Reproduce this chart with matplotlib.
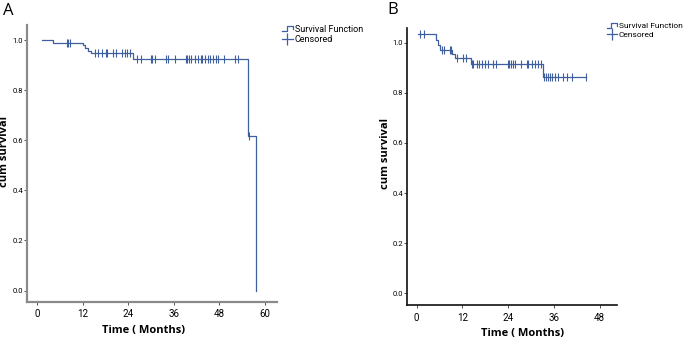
import matplotlib
matplotlib.use("Agg")
import matplotlib.pyplot as plt
import numpy as np
from matplotlib.lines import Line2D
from matplotlib.legend_handler import HandlerBase
from matplotlib import font_manager

names = {f.name for f in font_manager.fontManager.ttflist}
NARROW = 'Liberation Sans Narrow' if 'Liberation Sans Narrow' in names else 'Roboto'
plt.rcParams['font.family'] = [NARROW, 'DejaVu Sans']

# ---- data ----
A_event_times = [1.2, 4.2, 12.0, 12.6, 13.4, 14.2, 25.2, 55.7, 57.7]
A_surv = [1.0, 0.989, 0.979, 0.968, 0.957, 0.947, 0.925, 0.615, 0.0]
A_censor = [7.9, 8.2, 8.5,
            15.2, 15.9, 17.0, 18.1, 18.5, 19.9, 20.8, 22.4, 23.2, 23.7, 24.4,
            26.2, 27.5, 29.9, 30.3, 31.1, 34.1, 34.6, 36.3, 39.2, 39.6, 40.0,
            40.7, 41.6, 42.5, 43.1, 43.6, 44.2, 45.0, 45.6, 46.4, 47.1, 47.8,
            49.3, 52.2, 53.0, 56.0]

B_event_times = [0.3, 5.1, 5.6, 6.1, 9.2, 10.0, 14.2, 33.1]
B_surv = [1.033, 1.01, 0.99, 0.971, 0.955, 0.937, 0.914, 0.864]
B_censor = [0.9, 2.0, 6.6, 7.2, 8.7, 9.0, 10.5, 12.2, 12.9,
            14.4, 14.9, 15.7, 16.4, 17.1, 17.9, 18.8, 20.1, 20.7, 23.9, 24.3,
            24.8, 25.4, 25.8, 27.4, 28.9, 29.3, 30.2, 31.0, 31.9, 32.6,
            33.5, 33.9, 34.4, 35.0, 35.6, 36.3, 37.0, 38.3, 39.4, 40.7, 44.4]

A_xticks = [0, 12, 24, 36, 48, 60]
B_xticks = [0, 12, 24, 36, 48]
yticks = [0.0, 0.2, 0.4, 0.6, 0.8, 1.0]
ytick_labels = ["0.0", "0.2", "0.4", "0.6", "0.8", "1.0"]

COL = '#3f5f9f'
W, H = 685, 338
fig = plt.figure(figsize=(W / 100, H / 100), dpi=100)


def axes_px(l, t, r, b):
    return fig.add_axes([l / W, 1 - b / H, (r - l) / W, (b - t) / H])


class StepHandler(HandlerBase):
    def create_artists(self, legend, orig, xd, yd, width, height, fontsize, trans):
        xs = [xd, xd + width * 0.45, xd + width * 0.45, xd + width, xd + width]
        ys = [yd + height * 0.1, yd + height * 0.1, yd + height * 0.9,
              yd + height * 0.9, yd + height * 0.45]
        ln = Line2D(xs, ys, color=COL, lw=0.9, transform=trans)
        return [ln]


def km(ax, times, surv, cens):
    t = list(times)
    s = list(surv)
    end = max(max(cens), times[-1])
    if s[-1] > 0:
        t = t + [end]
        s = s + [s[-1]]
    ax.step(t, s, where='post', color=COL, lw=0.9)
    ct = np.array(cens)
    idx = np.searchsorted(np.array(times), ct, side='right') - 1
    cs = np.array(surv)[idx]
    ax.plot(ct, cs, ls='none', marker='|', ms=5.5, mew=0.8, color=COL)


def style(ax, spine_col, spine_w, xticks, xlim, ylim):
    for s in ['top', 'right']:
        ax.spines[s].set_visible(False)
    for s in ['left', 'bottom']:
        ax.spines[s].set_color(spine_col)
        ax.spines[s].set_linewidth(spine_w)
    ax.set_xlim(*xlim)
    ax.set_ylim(*ylim)
    ax.set_xticks(xticks)
    ax.set_xticklabels([str(v) for v in xticks])
    ax.set_yticks(yticks)
    ax.set_yticklabels(ytick_labels)
    ax.tick_params(axis='y', labelsize=5.5, length=2, width=0.6, pad=0.8,
                   color='#333333')
    ax.tick_params(axis='x', labelsize=7, length=2.5, width=0.6, pad=3,
                   color='#333333')
    ax.set_facecolor('none')


LBL = dict(fontsize=8, fontweight='bold', family=['Open Sans', 'DejaVu Sans'])

# Panel A
axA = axes_px(27, 25, 276.7, 301.7)
km(axA, A_event_times, A_surv, A_censor)
style(axA, '#8a8a8a', 1.6, A_xticks, (-2.72, 63.2), (-0.0447, 1.06))
axA.set_xlabel('Time ( Months)', **LBL)
axA.xaxis.set_label_coords(0.467, -0.084)
axA.set_ylabel('cum survival', **LBL)
axA.yaxis.set_label_coords(-0.068, 0.543)

# Panel B
axB = axes_px(406.7, 28.3, 617.3, 305)
km(axB, B_event_times, B_surv, B_censor)
style(axB, '#111111', 1.2, B_xticks, (-2.62, 52.65), (-0.0467, 1.0575))
axB.set_xlabel('Time ( Months)', **LBL)
axB.xaxis.set_label_coords(0.55, -0.083)
axB.set_ylabel('cum survival', **LBL)
axB.yaxis.set_label_coords(-0.0745, 0.546)

# legends
h_step = Line2D([], [], color=COL)
h_cens = Line2D([], [], color=COL, lw=0.9, marker='|', ms=8, mew=0.9)
for (lx, ly, fs) in [(280, 23, 6.5), (605, 21, 6.0)]:
    fig.legend([h_step, h_cens], ['Survival Function', 'Censored'],
               handler_map={h_step: StepHandler()},
               loc='upper left', bbox_to_anchor=(lx / W, 1 - ly / H),
               bbox_transform=fig.transFigure, frameon=False, fontsize=fs,
               handlelength=1.2, handletextpad=0.25, labelspacing=0.15,
               borderaxespad=0, borderpad=0.2)

fig.text(3 / W, 1 - 3 / H, 'A', fontsize=12, va='top', ha='left',
         family=['Open Sans', 'DejaVu Sans'])
fig.text(387 / W, 1 - 2 / H, 'B', fontsize=12, va='top', ha='left',
         family=['Open Sans', 'DejaVu Sans'])

fig.savefig('out.png', dpi=100)
